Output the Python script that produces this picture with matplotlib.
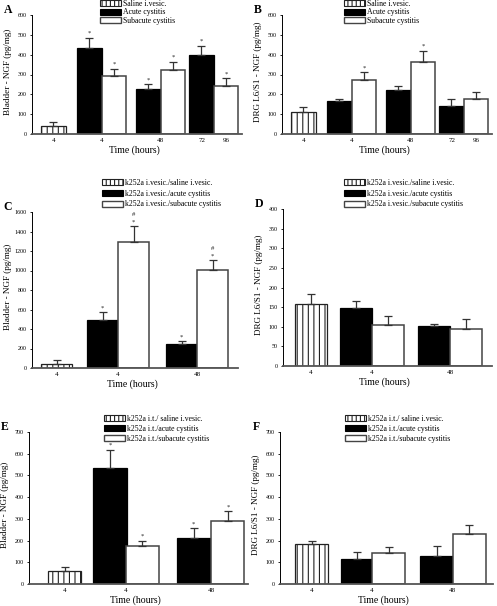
import matplotlib
matplotlib.use("Agg")
import matplotlib.pyplot as plt
from matplotlib.patches import Patch

plt.rcParams["font.family"] = ["Liberation Serif", "DejaVu Serif"]
plt.rcParams["hatch.linewidth"] = 0.8

W, H = 497, 606

# ---- data (pg/mg) ----
# A: bladder, time course
a_saline, a_saline_err = 42, 17
a_acute = [432, 225, 397]          # 4, 48, 72 h
a_acute_err = [54, 25, 48]
a_sub = [292, 323, 244]            # 4, 48, 96 h
a_sub_err = [37, 42, 37]
a_ticks = ["4", "4", "48", "72", "96"]

# B: DRG L6/S1, time course
b_saline, b_saline_err = 112, 26
b_acute = [164, 224, 143]
b_acute_err = [13, 17, 34]
b_sub = [274, 361, 175]
b_sub_err = [37, 60, 39]

# C: bladder, k252a i.vesic.
c_saline, c_saline_err = 41, 38
c_acute = [492, 248]
c_acute_err = [79, 24]
c_sub = [1293, 1010]
c_sub_err = [159, 95]

# D: DRG, k252a i.vesic.
d_saline, d_saline_err = 158, 25
d_acute = [147, 101]
d_acute_err = [19, 7]
d_sub = [104, 95]
d_sub_err = [24, 24]

# E: bladder, k252a i.t.
e_saline, e_saline_err = 61, 16
e_acute = [536, 210]
e_acute_err = [83, 46]
e_sub = [176, 291]
e_sub_err = [21, 44]

# F: DRG, k252a i.t.
f_saline, f_saline_err = 184, 15
f_acute = [113, 129]
f_acute_err = [35, 45]
f_sub = [145, 228]
f_sub_err = [26, 45]

cdef_ticks = ["4", "4", "48"]

labels_ab = ["Saline i.vesic.", "Acute cystitis", "Subacute cystitis"]
labels_cd = ["k252a i.vesic./saline i.vesic.", "k252a i.vesic./acute cystitis",
             "k252a i.vesic./subacute cystitis"]
labels_ef = ["k252a i.t./ saline i.vesic.", "k252a i.t./acute cystitis",
             "k252a i.t./subacute cystitis"]

# significance marks per bar: saline, acute..., subacute...
marks_a = ["", "*", "*", "*", "*", "*", "*"]
marks_b = ["", "", "*", "", "*", "", ""]
marks_c = ["", "*", "#*", "*", "#*"]
marks_d = ["", "", "", "", ""]
marks_e = ["", "*", "*", "*", "*"]
marks_f = ["", "", "", "", ""]

BLADDER = "Bladder - NGF (pg/mg)"
DRG = "DRG L6/S1 - NGF (pg/mg)"


def px_axes(fig, left, top, right, bottom):
    return fig.add_axes([left / W, 1 - bottom / H, (right - left) / W, (bottom - top) / H])


def draw_panel(fig, box, lefts, width, xlim, ylim, ystep, saline, saline_err,
               acute, acute_err, sub, sub_err, order, ticks, tick_pos, marks):
    ax = px_axes(fig, *box)
    # order: which group ('a' acute / 's' subacute) each bar after saline is
    vals = [saline]
    errs = [saline_err]
    kinds = ["h"]
    ia = isub = 0
    for k in order:
        if k == "a":
            vals.append(acute[ia]); errs.append(acute_err[ia]); ia += 1
        else:
            vals.append(sub[isub]); errs.append(sub_err[isub]); isub += 1
        kinds.append(k)
    for x0, v, e, k, m in zip(lefts, vals, errs, kinds, marks):
        if k == "h":
            ax.bar(x0, v, width, align="edge", facecolor="white", edgecolor="#222",
                   hatch="|||", linewidth=0.9, zorder=2)
        elif k == "a":
            ax.bar(x0, v, width, align="edge", facecolor="black", edgecolor="black",
                   linewidth=0.9, zorder=2)
        else:
            ax.bar(x0, v, width, align="edge", facecolor="white", edgecolor="#444",
                   linewidth=1.1, zorder=2)
        xc = x0 + width / 2
        ax.errorbar(xc, v, yerr=[[0], [e]], fmt="none", ecolor="#333",
                    elinewidth=0.9, capsize=2.8, capthick=0.9, zorder=3)
        off = 1.5
        for ch in reversed(m):
            ax.annotate(ch, (xc, v + e), xytext=(0, off), textcoords="offset points",
                        ha="center", va="bottom", fontsize=4.8, color="#222")
            off += 5
    ax.set_xlim(*xlim)
    ax.set_ylim(*ylim)
    ax.set_yticks(range(ylim[0], ylim[1] + 1, ystep))
    ax.set_xticks(tick_pos)
    ax.set_xticklabels(ticks)
    ax.tick_params(axis="y", labelsize=4.3, length=1.5, width=0.6, pad=2.5)
    ax.tick_params(axis="x", labelsize=5, length=0, pad=3)
    for s in ("top", "right"):
        ax.spines[s].set_visible(False)
    ax.spines["left"].set_linewidth(0.7)
    ax.spines["bottom"].set_linewidth(1.3)
    ax.spines["bottom"].set_color("#555")
    return ax


def add_legend(fig, x, y, labels, spacing):
    handles = [Patch(facecolor="white", edgecolor="#222", hatch="||||", linewidth=0.8),
               Patch(facecolor="black", edgecolor="black", linewidth=0.8),
               Patch(facecolor="white", edgecolor="#444", linewidth=1.0)]
    fig.legend(handles, labels, loc="upper left", bbox_to_anchor=(x / W, 1 - y / H),
               frameon=False, fontsize=5.6, handlelength=2.7, handleheight=0.75,
               handletextpad=0.2, labelspacing=spacing, borderpad=0, borderaxespad=0)


fig = plt.figure(figsize=(W / 100, H / 100), dpi=100)

ab_lefts = [0.38, 1.9, 2.95, 4.4, 5.45, 6.65, 7.7]
ab_ticks = [0.9, 2.95, 5.45, 7.2, 8.25]
ab_order = ["a", "s", "a", "s", "a", "s"]
cdef_order = ["a", "s", "a", "s"]

panels = [
    ("A", (32, 15, 242, 134), ab_lefts, 1.05, (0, 8.9), (0, 600), 100,
     a_saline, a_saline_err, a_acute, a_acute_err, a_sub, a_sub_err,
     ab_order, a_ticks, ab_ticks, marks_a, BLADDER, labels_ab, (100, 0), 0.05),
    ("B", (282, 15, 492, 134), ab_lefts, 1.05, (0, 8.9), (0, 600), 100,
     b_saline, b_saline_err, b_acute, b_acute_err, b_sub, b_sub_err,
     ab_order, a_ticks, ab_ticks, marks_b, DRG, labels_ab, (344, 0), 0.05),
    ("C", (32, 212, 238, 368), [0.28, 1.72, 2.69, 4.19, 5.16], 0.98, (0, 6.44), (0, 1600), 200,
     c_saline, c_saline_err, c_acute, c_acute_err, c_sub, c_sub_err,
     cdef_order, cdef_ticks, [0.77, 2.69, 5.16], marks_c, BLADDER, labels_cd, (102, 179), 0.35),
    ("D", (283, 209, 492, 366), [0.375, 1.78, 2.78, 4.22, 5.22], 1.0, (0, 6.53), (0, 400), 50,
     d_saline, d_saline_err, d_acute, d_acute_err, d_sub, d_sub_err,
     cdef_order, cdef_ticks, [0.875, 2.78, 5.22], marks_d, DRG, labels_cd, (344, 179), 0.35),
    ("E", (29, 432, 248, 584), [0.6, 2.0, 3.0, 4.6, 5.66], 1.03, (0, 6.8), (0, 700), 100,
     e_saline, e_saline_err, e_acute, e_acute_err, e_sub, e_sub_err,
     cdef_order, cdef_ticks, [1.1, 3.0, 5.66], marks_e, BLADDER, labels_ef, (104, 415), 0.25),
    ("F", (280, 432, 493, 584), [0.47, 1.9, 2.88, 4.38, 5.4], 1.03, (0, 6.66), (0, 700), 100,
     f_saline, f_saline_err, f_acute, f_acute_err, f_sub, f_sub_err,
     cdef_order, cdef_ticks, [0.98, 2.88, 5.4], marks_f, DRG, labels_ef, (345, 415), 0.25),
]

for (letter, box, lefts, width, xlim, ylim, ystep, sal, sal_e, ac, ac_e, sb, sb_e,
     order, ticks, tpos, marks, ylabel, leg_labels, leg_xy, leg_sp) in panels:
    draw_panel(fig, box, lefts, width, xlim, ylim, ystep, sal, sal_e, ac, ac_e,
               sb, sb_e, order, ticks, tpos, marks)
    left, top, right, bottom = box
    cx = (left + right) / 2 - 3
    fig.text(cx / W, 1 - (bottom + 16) / H, "Time (hours)", ha="center", va="center",
             fontsize=7)
    fig.text((left - 24) / W, 1 - ((top + bottom) / 2 - 3) / H, ylabel, rotation=90,
             ha="center", va="center", fontsize=6.6)
    fig.text((left - 24) / W, 1 - (top - 5) / H, letter, ha="center", va="center",
             fontsize=8.5, fontweight="bold")
    add_legend(fig, leg_xy[0], leg_xy[1], leg_labels, leg_sp)

fig.savefig("out.png", dpi=100)
